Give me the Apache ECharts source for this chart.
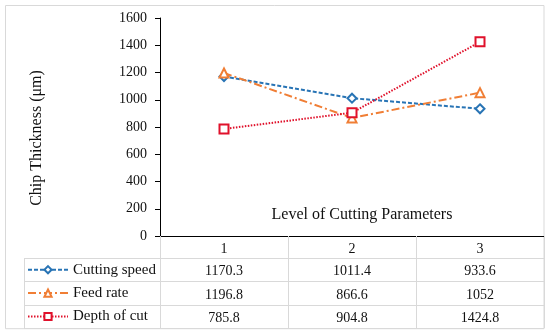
<!DOCTYPE html>
<html>
<head>
<meta charset="utf-8">
<script src="https://cdn.jsdelivr.net/npm/echarts@6/dist/echarts.min.js"></script>
<style>html,body{margin:0;padding:0;background:#fff}#c{width:550px;height:336px}</style>
</head>
<body>
<div id="c"></div>
<script>
const categories = ['1', '2', '3'];
const seriesNames = ['Cutting speed', 'Feed rate', 'Depth of cut'];
const cuttingSpeed = [1170.3, 1011.4, 933.6];
const feedRate = [1196.8, 866.6, 1052];
const depthOfCut = [785.8, 904.8, 1424.8];
const yTicks = { min: 0, max: 1600, interval: 200 };
const yTitle = 'Chip Thickness (μm)';
const xTitle = 'Level of Cutting Parameters';

const FONT = 'Liberation Serif';
const gridLeft = 160, gridRight = 6, gridTop = 18, axisY = 236;
const headerH = 22, rowH = 23.4, tableLeft = 24, W = 550, H = 336;
const tableRight = W - gridRight;
const tableBottom = axisY + headerH + rowH * 3;

const allSeries = [cuttingSpeed, feedRate, depthOfCut];
const chart = echarts.init(document.getElementById('c'));

const graphics = [];
graphics.push({ type: 'rect', shape: { x: 5.5, y: 5.5, width: tableRight - 5.5, height: tableBottom - 5 }, style: { fill: 'none', stroke: '#d9d9d9', lineWidth: 1 }, z: 0 });
for (let i = 0; i <= 3; i++) {
  const y = Math.round(axisY + headerH + rowH * i) + 0.5;
  graphics.push({ type: 'line', shape: { x1: tableLeft, y1: y, x2: tableRight, y2: y }, style: { stroke: '#d9d9d9', lineWidth: 1 }, z: 1 });
}
graphics.push({ type: 'line', shape: { x1: tableLeft + 0.5, y1: axisY + headerH, x2: tableLeft + 0.5, y2: tableBottom }, style: { stroke: '#d9d9d9', lineWidth: 1 }, z: 1 });
graphics.push({ type: 'text', x: 37, y: 138, rotation: Math.PI / 2, style: { text: yTitle, fontSize: 16, fontFamily: FONT, fill: '#111', align: 'center', verticalAlign: 'middle' } });
graphics.push({ type: 'text', x: 362, y: 215, style: { text: xTitle, fontSize: 16, fontFamily: FONT, fill: '#111', align: 'center', verticalAlign: 'middle' } });

const colors = ['#2874B5', '#F07E35', '#E0112B'];
const symbols = ['emptyDiamond', 'emptyTriangle', 'emptyRect'];
const dashes = [[4, 2], [8, 3, 2, 3], [1.5, 1.5]];

chart.setOption({
  animation: false,
  grid: { left: gridLeft, right: gridRight, top: gridTop, bottom: H - axisY, containLabel: false },
  legend: {
    orient: 'vertical', left: 27, top: axisY + headerH + (rowH - 16) / 2, padding: 0, height: 120,
    itemWidth: 40, itemHeight: 9, itemGap: rowH - 16,
    textStyle: { fontFamily: FONT, fontSize: 15, color: '#111', lineHeight: 16 },
    data: seriesNames
  },
  xAxis: {
    type: 'category', data: categories, boundaryGap: true,
    axisLine: { show: true, lineStyle: { color: '#000', width: 1 } },
    axisTick: { show: true, interval: 0, length: tableBottom - axisY, lineStyle: { color: '#d9d9d9' } },
    axisLabel: {
      interval: 0, margin: 2,
      formatter: (v, idx) => '{h|' + v + '}\n' + allSeries.map(s => '{v|' + s[idx] + '}').join('\n'),
      rich: {
        h: { fontFamily: FONT, fontSize: 14, color: '#111', lineHeight: headerH, height: headerH },
        v: { fontFamily: FONT, fontSize: 14, color: '#111', lineHeight: rowH, height: rowH }
      }
    },
    splitLine: { show: false }
  },
  yAxis: {
    type: 'value', min: yTicks.min, max: yTicks.max, interval: yTicks.interval,
    axisLine: { show: true, lineStyle: { color: '#000', width: 1 } },
    axisTick: { show: true, length: 5, lineStyle: { color: '#000' } },
    axisLabel: { fontFamily: FONT, fontSize: 14, color: '#111', margin: 13, formatter: v => String(v) },
    splitLine: { show: false }
  },
  series: seriesNames.map((n, i) => ({
    name: n, type: 'line', data: allSeries[i],
    symbol: symbols[i], symbolSize: 9,
    itemStyle: { color: colors[i], borderColor: colors[i], borderWidth: 2 },
    lineStyle: { color: colors[i], width: 2, type: dashes[i] },
    z: 3 + i
  })),
  graphic: graphics
});
</script>
</body>
</html>
